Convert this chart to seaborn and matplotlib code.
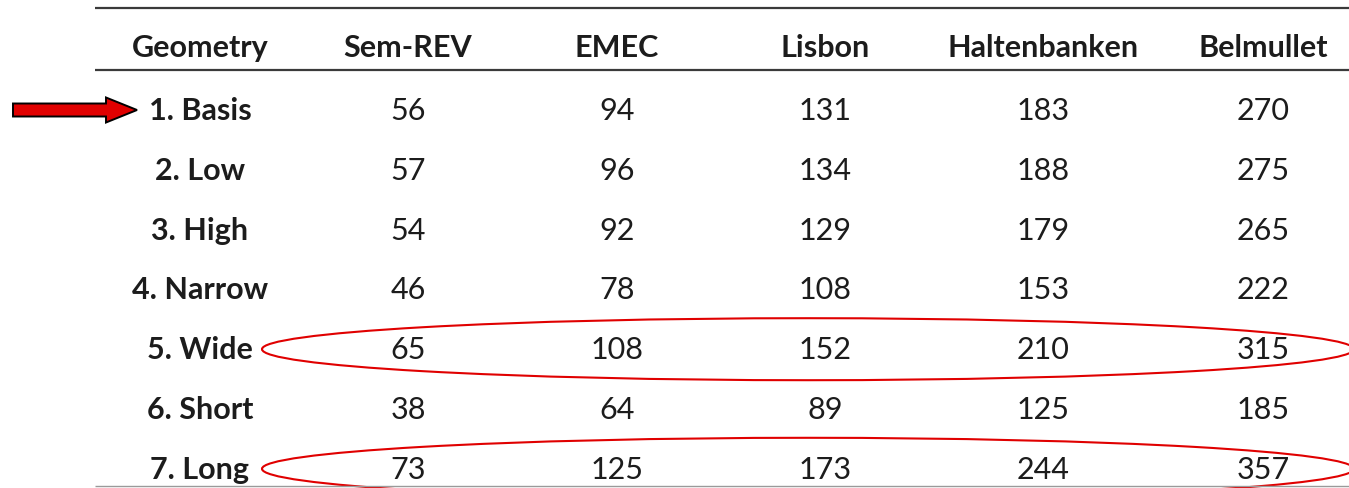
import matplotlib
matplotlib.use("Agg")
import matplotlib.pyplot as plt
from matplotlib.patches import Ellipse, FancyArrow
import seaborn as sns

# table contents
headers = ["Geometry", "Sem-REV", "EMEC", "Lisbon", "Haltenbanken", "Belmullet"]
geometries = ["1. Basis", "2. Low", "3. High", "4. Narrow", "5. Wide", "6. Short", "7. Long"]
sem_rev = [56, 57, 54, 46, 65, 38, 73]
emec = [94, 96, 92, 78, 108, 64, 125]
lisbon = [131, 134, 129, 108, 152, 89, 173]
haltenbanken = [183, 188, 179, 153, 210, 125, 244]
belmullet = [270, 275, 265, 222, 315, 185, 357]
highlighted = ["5. Wide", "7. Long"]
pointed = "1. Basis"

# layout (pixels)
col_x = [200, 408, 617, 825, 1043, 1263]
header_y = 48
row_y0, row_dy = 111, 59.8

sns.set_theme(style="white")
plt.rcParams["font.family"] = ["Lato", "DejaVu Sans"]

fig = plt.figure(figsize=(13.49, 4.88), dpi=100)
ax = fig.add_axes([0, 0, 1, 1])
ax.set_xlim(0, 1349)
ax.set_ylim(488, 0)
ax.axis("off")

txt = "#1c1c1c"
fs = 22

for x, h in zip(col_x, headers):
    ax.text(x, header_y, h, ha="center", va="center", fontsize=fs, fontweight="bold", color=txt)

columns = [sem_rev, emec, lisbon, haltenbanken, belmullet]
row_pos = {}
for i, g in enumerate(geometries):
    y = row_y0 + i * row_dy
    row_pos[g] = y
    ax.text(col_x[0], y, g, ha="center", va="center", fontsize=fs, fontweight="bold", color=txt)
    for x, col in zip(col_x[1:], columns):
        ax.text(x, y, str(col[i]), ha="center", va="center", fontsize=fs, color=txt)

# rules
ax.plot([95, 1349], [8, 8], color="#3a3a3a", lw=1.6, solid_capstyle="butt")
ax.plot([95, 1349], [70, 70], color="#3a3a3a", lw=1.6, solid_capstyle="butt")
ax.plot([95, 1349], [486, 486], color="#9a9a9a", lw=1.0, solid_capstyle="butt")

# red highlights
for g in highlighted:
    ax.add_patch(Ellipse((808, row_pos[g] - 1), 1092, 62, fill=False, ec="#e00000", lw=1.5, clip_on=False))

ax.add_patch(FancyArrow(13, row_pos[pointed] - 1, 124, 0, width=13, head_width=25, head_length=31,
                        length_includes_head=True, fc="#e00000", ec="black", lw=1.4))

fig.savefig("out.png", dpi=100)
